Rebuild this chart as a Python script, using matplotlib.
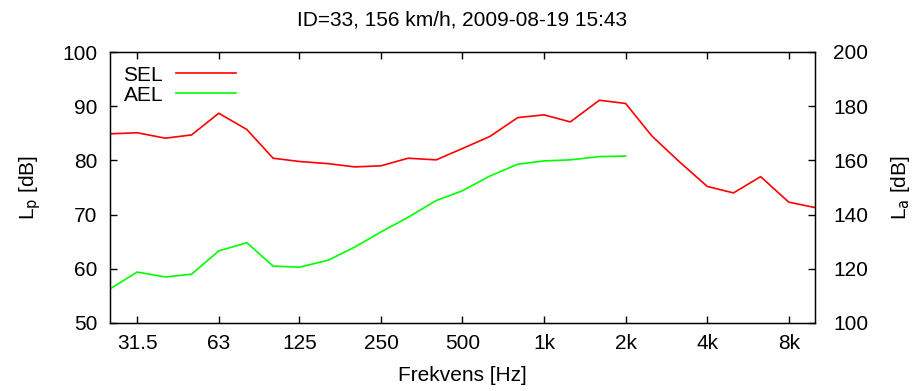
import matplotlib
matplotlib.use("Agg")
import matplotlib.pyplot as plt

plt.rcParams['font.family'] = ['Liberation Sans', 'DejaVu Sans']

# third-octave bands
freqs = [25, 31.5, 40, 50, 63, 80, 100, 125, 160, 200, 250, 315, 400, 500, 630,
         800, 1000, 1250, 1600, 2000, 2500, 3150, 4000, 5000, 6300, 8000, 10000]
sel = [84.9, 85.1, 84.1, 84.7, 88.7, 85.7, 80.4, 79.8, 79.4, 78.8, 79.0, 80.4,
       80.1, 82.2, 84.4, 87.9, 88.4, 87.1, 91.1, 90.5, 84.5, 79.8, 75.2, 74.0,
       77.0, 72.3, 71.3]
ael_freqs = freqs[:20]
ael = [56.3, 59.4, 58.5, 59.0, 63.3, 64.8, 60.5, 60.3, 61.6, 64.0, 66.8, 69.5,
       72.6, 74.4, 77.1, 79.3, 79.9, 80.1, 80.7, 80.8]

tick_freqs = [31.5, 63, 125, 250, 500, 1000, 2000, 4000, 8000]
tick_labels = ['31.5', '63', '125', '250', '500', '1k', '2k', '4k', '8k']

fs = 15

fig = plt.figure(figsize=(9.17, 3.91), dpi=100)
ax = fig.add_axes([110/917, 1 - 323/391, 705/917, 271/391])

ax.plot(freqs, sel, color='#ff0000', lw=1.2, label='SEL')
ax.plot(ael_freqs, ael, color='#00ff00', lw=1.2, label='AEL')

ax.set_xscale('log')
ax.set_xlim(25, 10000)
ax.set_ylim(50, 100)
ax.set_xticks(tick_freqs)
ax.set_xticklabels(tick_labels)
ax.minorticks_off()
ax.set_yticks(range(50, 101, 10))
ax.tick_params(direction='in', length=5, width=1, labelsize=fs, top=True)
ax.tick_params(axis='x', pad=8)
ax.tick_params(axis='y', pad=9)
for s in ax.spines.values():
    s.set_linewidth(1.0)

ax.set_xlabel('Frekvens [Hz]', fontsize=fs, labelpad=9)
ax.set_ylabel('L$_\\mathrm{p}$ [dB]', fontsize=fs, labelpad=14)
ax.set_title('ID=33, 156 km/h, 2009-08-19 15:43', fontsize=fs, pad=19)

ax2 = ax.twinx()
ax2.set_ylim(100, 200)
ax2.set_yticks(range(100, 201, 20))
ax2.tick_params(direction='in', length=5, width=1, labelsize=fs, pad=13)
ax2.set_ylabel('L$_\\mathrm{a}$ [dB]', fontsize=fs, labelpad=15)

leg = ax.legend(loc='upper left', frameon=False, fontsize=fs, markerfirst=False,
                handlelength=2.9, handletextpad=0.6, borderaxespad=0.25,
                labelspacing=0.05)

fig.savefig('out.png', dpi=100)
